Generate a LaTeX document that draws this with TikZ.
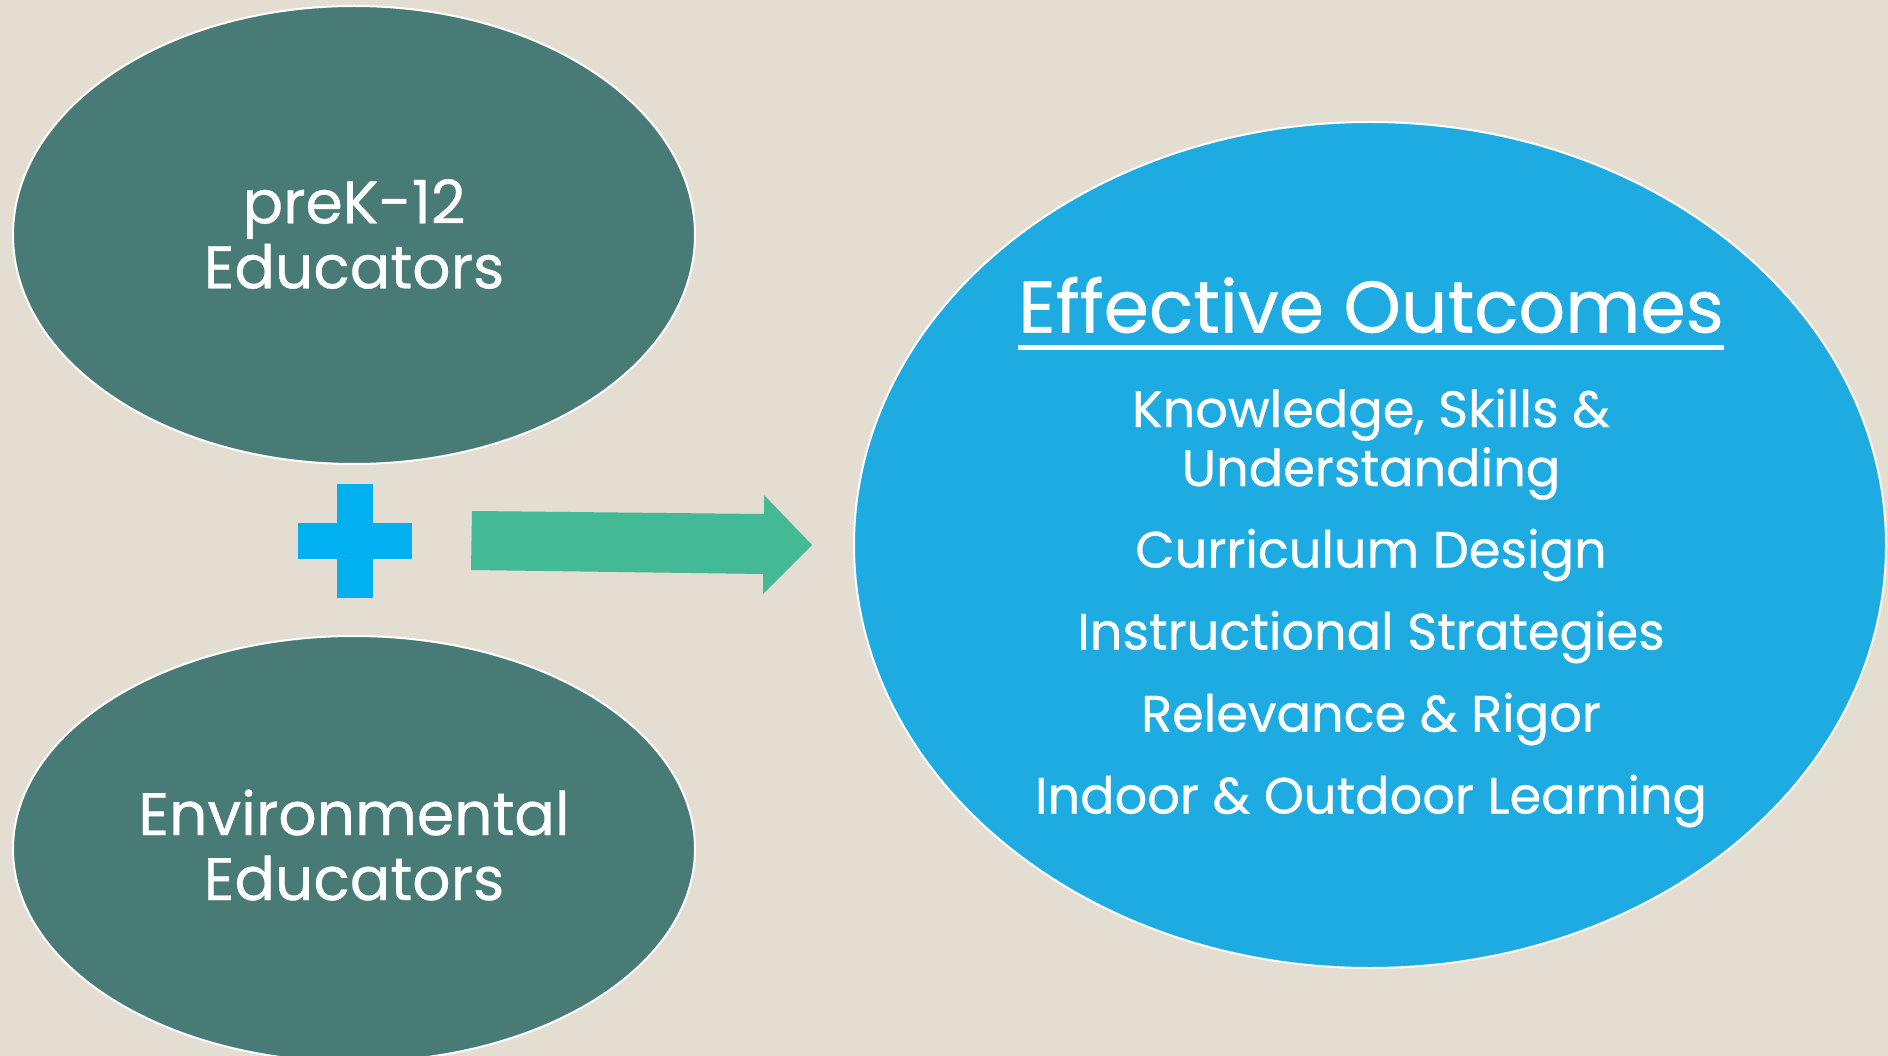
\documentclass[tikz,border=0pt]{standalone}
\usepackage{fontspec}
\setmainfont{Poppins}[FakeBold=0.6]
\usetikzlibrary{calc}
\definecolor{bg}{HTML}{E3DDD2}
\definecolor{teal}{HTML}{487A76}
\definecolor{skyb}{HTML}{1EABE2}
\definecolor{plusb}{HTML}{00B0F0}
\definecolor{arrowg}{HTML}{43B995}
\begin{document}
\begin{tikzpicture}[x=1pt,y=-1pt,
  oval/.style={draw=white,line width=2pt},
  lbl/.style={text=white,align=center,inner sep=0pt},
  big/.style={lbl,font=\fontsize{60}{65}\selectfont},
  item/.style={lbl,font=\fontsize{51}{59}\selectfont}]
\fill[bg] (0,0) rectangle (1888,1056);
\useasboundingbox (0,0) rectangle (1888,1056);
\filldraw[oval,fill=teal] (354,235) ellipse [x radius=341,y radius=229];
\filldraw[oval,fill=teal] (354,849) ellipse [x radius=341,y radius=213];
\filldraw[oval,fill=skyb] (1370,545) ellipse [x radius=516,y radius=423];
\fill[plusb] (337,484) rectangle (373,598);
\fill[plusb] (298,523) rectangle (412,559);
\fill[arrowg] (472,511) -- (764,514) -- (764,495) -- (812,545) -- (763,594) -- (763,574) -- (471,570) -- cycle;
\node[big] (t1) at (354,234) {preK-12\\Educators};
\node[big] (t2) at (354,845) {Environmental\\Educators};
\node[lbl,font=\fontsize{73}{80}\selectfont] (title) at (1371,305) {Effective Outcomes};
\draw[white,line width=5pt] ($(title.south west)+(0,14)$) -- ($(title.south east)+(0,14)$);
\node[item] (i1) at (1371,444) {Knowledge, Skills \&\\Understanding};
\node[item] (i2) at (1371,555) {Curriculum Design};
\node[item] (i3) at (1371,637) {Instructional Strategies};
\node[item] (i4) at (1371,719) {Relevance \& Rigor};
\node[item] (i5) at (1371,801) {Indoor \& Outdoor Learning};
\end{tikzpicture}
\end{document}
